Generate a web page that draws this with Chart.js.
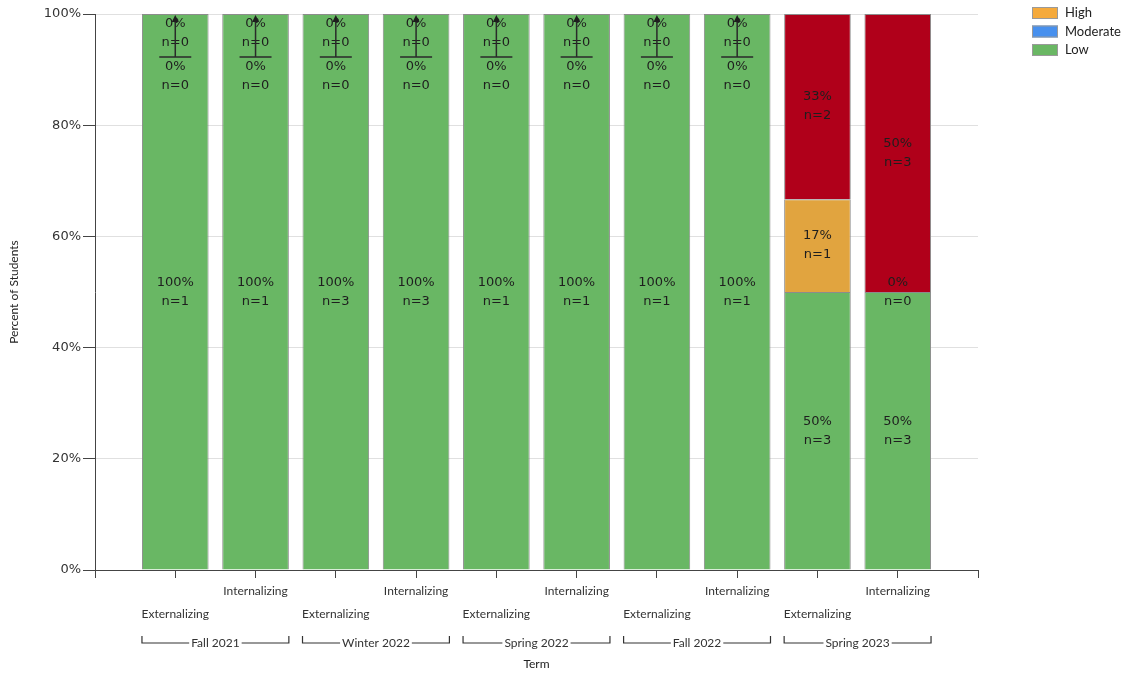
<!DOCTYPE html>
<html><head><meta charset="utf-8">
<script src="https://cdn.jsdelivr.net/npm/chart.js@4.4.0/dist/chart.umd.min.js"></script>
<style>html,body{margin:0;padding:0;background:#fff;}#wrap{width:1126px;height:674px;position:relative;}</style>
</head><body><div id="wrap"><canvas id="c"></canvas></div>
<script>
// ---- data ----
const terms = ['Fall 2021', 'Winter 2022', 'Spring 2022', 'Fall 2022', 'Spring 2023'];
const measures = ['Externalizing', 'Internalizing'];
const lowPct      = [100, 100, 100, 100, 100, 100, 100, 100, 50, 50];
const lowN        = [1, 1, 3, 3, 1, 1, 1, 1, 3, 3];
const moderatePct = [0, 0, 0, 0, 0, 0, 0, 0, null, null];
const moderateN   = [0, 0, 0, 0, 0, 0, 0, 0, null, null];
const highPct     = [0, 0, 0, 0, 0, 0, 0, 0, 16.7, 0];
const highN       = [0, 0, 0, 0, 0, 0, 0, 0, 1, 0];
const veryHighPct = [null, null, null, null, null, null, null, null, 33.3, 50];
const veryHighN   = [null, null, null, null, null, null, null, null, 2, 3];
const yTickValues = [0, 20, 40, 60, 80, 100];
const yAxisTitle = 'Percent of Students';
const xAxisTitle = 'Term';

// ---- build ----
const bars = terms.flatMap(t => measures.map(m => ({term: t, measure: m})));
const pad = a => [null, ...a, null];
const labels = ['', ...bars.map(b => b.measure), ''];

const FONT_UI = 'Lato, "Open Sans", sans-serif';
const FONT_NUM = '"DejaVu Sans", Verdana, sans-serif';

const datasets = [
  {label: 'Low', data: pad(lowPct), nVals: pad(lowN), backgroundColor: '#69b764', legendColor: '#6ab764', inLegend: true},
  {label: 'Moderate', data: pad(moderatePct), nVals: pad(moderateN), backgroundColor: '#3f8ef0', legendColor: '#4790ee', inLegend: true},
  {label: 'High', data: pad(highPct), nVals: pad(highN), backgroundColor: '#e1a43f', legendColor: '#f5aa3c', inLegend: true},
  {label: 'Very High', data: pad(veryHighPct), nVals: pad(veryHighN), backgroundColor: '#b0001a', legendColor: '#b0001a', inLegend: false}
].map(d => Object.assign(d, {borderColor: '#8c8c8c', borderWidth: 1, categoryPercentage: 1.0, barPercentage: 0.83}));

const overlay = {
  id: 'overlay',
  afterDatasetsDraw(chart) {
    const ctx = chart.ctx;
    const area = chart.chartArea;
    const T = area.top;
    ctx.save();
    // data labels
    ctx.font = '13px ' + FONT_NUM;
    ctx.fillStyle = '#1e1e1e';
    ctx.textAlign = 'center';
    ctx.textBaseline = 'middle';
    const nBars = labels.length;
    for (let j = 1; j < nBars - 1; j++) {
      let cum = 0;
      const total = chart.data.datasets.reduce((s, d) => s + (d.data[j] || 0), 0);
      let zeroTopIdx = 0;
      const cx = chart.getDatasetMeta(0).data[j].x;
      let callout = false;
      chart.data.datasets.forEach((ds, i) => {
        const v = ds.data[j];
        if (v === null || v === undefined) return;
        const el = chart.getDatasetMeta(i).data[j];
        const pctTxt = Math.round(v) + '%';
        const nTxt = 'n=' + ds.nVals[j];
        cum += v;
        if (v > 0) {
          const c = (el.y + el.base) / 2;
          ctx.fillText(pctTxt, el.x, c - 9.5);
          ctx.fillText(nTxt, el.x, c + 9.5);
        } else if (Math.abs(cum - total) < 0.01) {
          // zero segment sitting at top of the stack: callout
          callout = true;
          const base = T + 10 + zeroTopIdx * 43;
          ctx.fillText(pctTxt, el.x, base);
          ctx.fillText(nTxt, el.x, base + 19);
          zeroTopIdx++;
        } else {
          ctx.fillText(pctTxt, el.x, el.y - 9.5);
          ctx.fillText(nTxt, el.x, el.y + 9.5);
        }
      });
      if (callout) {
        ctx.strokeStyle = '#2a2a2a';
        ctx.lineWidth = 1.5;
        ctx.beginPath();
        ctx.moveTo(cx, T + 6);
        ctx.lineTo(cx, T + 43);
        ctx.moveTo(cx - 16, T + 43);
        ctx.lineTo(cx + 16, T + 43);
        ctx.stroke();
        ctx.fillStyle = '#1e1e1e';
        ctx.beginPath();
        ctx.moveTo(cx, T + 1);
        ctx.lineTo(cx - 3.5, T + 8);
        ctx.lineTo(cx + 3.5, T + 8);
        ctx.closePath();
        ctx.fill();
      }
    }
    // term group brackets
    ctx.font = '12px ' + FONT_UI;
    ctx.fillStyle = '#333';
    ctx.strokeStyle = '#333';
    ctx.lineWidth = 1.2;
    const meta0 = chart.getDatasetMeta(0);
    const yB = 643;
    terms.forEach((t, k) => {
      const a = meta0.data[1 + k * measures.length];
      const b = meta0.data[k * measures.length + measures.length];
      const left = a.x - a.width / 2, right = b.x + b.width / 2;
      const mid = (left + right) / 2;
      const w = ctx.measureText(t).width;
      ctx.beginPath();
      ctx.moveTo(left, yB - 7); ctx.lineTo(left, yB); ctx.lineTo(mid - w / 2 - 2, yB);
      ctx.moveTo(mid + w / 2 + 2, yB); ctx.lineTo(right, yB); ctx.lineTo(right, yB - 7);
      ctx.stroke();
      ctx.fillText(t, mid, yB);
    });
    // legend (reverse stacking order, only legend series)
    const items = chart.data.datasets.filter(d => d.inLegend).slice().reverse();
    ctx.font = '13px ' + FONT_UI;
    ctx.textAlign = 'left';
    items.forEach((d, k) => {
      const yc = 13 + k * 18.5;
      ctx.fillStyle = d.legendColor;
      ctx.fillRect(1032, yc - 6, 26, 12);
      ctx.strokeStyle = '#9a9a9a';
      ctx.lineWidth = 1;
      ctx.strokeRect(1032.5, yc - 5.5, 25, 11);
      ctx.fillStyle = '#222';
      ctx.fillText(d.label, 1065, yc);
    });
    ctx.restore();
  }
};

new Chart(document.getElementById('c'), {
  type: 'bar',
  data: {labels, datasets},
  options: {
    responsive: true,
    maintainAspectRatio: false,
    animation: false,
    layout: {padding: {top: 14, right: 148, left: 0, bottom: 0}},
    plugins: {legend: {display: false}, tooltip: {enabled: false}},
    scales: {
      x: {
        type: 'category',
        stacked: true,
        offset: false,
        afterFit: s => { s.height = 104; },
        grid: {offset: false, drawOnChartArea: false, drawTicks: true, tickLength: 8, color: '#444', lineWidth: 1},
        border: {color: '#444', width: 1},
        ticks: {
          autoSkip: false, maxRotation: 0, minRotation: 0, padding: 2,
          color: '#333',
          font: {family: FONT_UI, size: 12, lineHeight: '23px'},
          callback: (v, i) => {
            const l = labels[i];
            if (!l) return '';
            return l === measures[0] ? ['', l] : [l];
          }
        },
        title: {display: true, text: xAxisTitle, color: '#222', font: {family: FONT_UI, size: 12}, padding: {top: 0, bottom: 3}}
      },
      y: {
        stacked: true,
        min: 0, max: 100,
        afterFit: s => { s.width = 95; },
        afterBuildTicks: s => { s.ticks = yTickValues.map(v => ({value: v})); },
        grid: {color: '#e0e0e0', tickColor: '#444', tickLength: 12, lineWidth: 1},
        border: {color: '#444', width: 1},
        ticks: {padding: 2, color: '#333', font: {family: FONT_NUM, size: 13}, callback: v => v + '%'},
        title: {display: true, text: yAxisTitle, color: '#222', font: {family: FONT_UI, size: 12}, padding: {top: 7, bottom: 0}}
      }
    }
  },
  plugins: [overlay]
});
</script>
</body></html>
